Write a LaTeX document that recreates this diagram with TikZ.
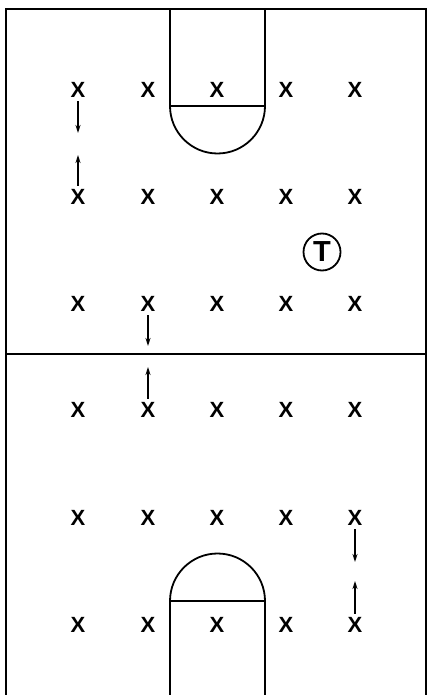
\documentclass[tikz,border=0pt]{standalone}
\usepackage{fontspec}
\setmainfont{Liberation Sans}
\usepackage{tikz}
\usetikzlibrary{arrows.meta}

\begin{document}
\begin{tikzpicture}[x=1pt, y=-1pt, >={Stealth[length=8pt, width=5pt]}]
        % Style definitions
        \tikzset{
            court/.style={line width=2.2pt},
            lane/.style={line width=1.8pt},
            player/.style={inner sep=0pt, outer sep=3.5pt, font=\fontsize{22}{22}\selectfont},
            coach/.style={draw, circle, line width=1.8pt, minimum size=37pt, inner sep=0pt, font=\bfseries\fontsize{29}{29}\selectfont},
            move/.style={->, line width=1.6pt}
        }
        \useasboundingbox (0,0) rectangle (428,695);

        % Court outline and half line
        \draw [court] (6,697) -- (6,9) -- (426,9) -- (426,697);
        \draw [court] (6,354) -- (426,354);

        % Top lane
        \draw [lane] (170,9) -- (170,106) -- (265,106) -- (265,9);
        \draw [lane] (170,106) arc [start angle=180, end angle=0, radius=47.5];

        % Bottom lane
        \draw [lane] (170,697) -- (170,601) -- (265,601) -- (265,697);
        \draw [lane] (170,601) arc [start angle=180, end angle=360, radius=47.5];

        % Players, row 1
        \node [player] (x11) at (78,90) {\bfseries X};
        \node [player] (x12) at (148,90) {\bfseries X};
        \node [player] (x13) at (217,90) {\bfseries X};
        \node [player] (x14) at (286,90) {\bfseries X};
        \node [player] (x15) at (355,90) {\bfseries X};

        % Players, row 2
        \node [player] (x21) at (78,197) {\bfseries X};
        \node [player] (x22) at (148,197) {\bfseries X};
        \node [player] (x23) at (217,197) {\bfseries X};
        \node [player] (x24) at (286,197) {\bfseries X};
        \node [player] (x25) at (355,197) {\bfseries X};

        % Players, row 3
        \node [player] (x31) at (78,304) {\bfseries X};
        \node [player] (x32) at (148,304) {\bfseries X};
        \node [player] (x33) at (217,304) {\bfseries X};
        \node [player] (x34) at (286,304) {\bfseries X};
        \node [player] (x35) at (355,304) {\bfseries X};

        % Players, row 4
        \node [player] (x41) at (78,410) {\bfseries X};
        \node [player] (x42) at (148,410) {\bfseries X};
        \node [player] (x43) at (217,410) {\bfseries X};
        \node [player] (x44) at (286,410) {\bfseries X};
        \node [player] (x45) at (355,410) {\bfseries X};

        % Players, row 5
        \node [player] (x51) at (78,518) {\bfseries X};
        \node [player] (x52) at (148,518) {\bfseries X};
        \node [player] (x53) at (217,518) {\bfseries X};
        \node [player] (x54) at (286,518) {\bfseries X};
        \node [player] (x55) at (355,518) {\bfseries X};

        % Players, row 6
        \node [player] (x61) at (78,625) {\bfseries X};
        \node [player] (x62) at (148,625) {\bfseries X};
        \node [player] (x63) at (217,625) {\bfseries X};
        \node [player] (x64) at (286,625) {\bfseries X};
        \node [player] (x65) at (355,625) {\bfseries X};

        % Coach
        \node [coach] (coach) at (322,252) {T};

        % Arrow tips
        \coordinate (tip1) at (78,133);
        \coordinate (tip2) at (78,155);
        \coordinate (tip3) at (148,346);
        \coordinate (tip4) at (148,367);
        \coordinate (tip5) at (355,562);
        \coordinate (tip6) at (355,581);

        % Moves
        \draw [move] (x11) -- (tip1);
        \draw [move] (x21) -- (tip2);
        \draw [move] (x32) -- (tip3);
        \draw [move] (x42) -- (tip4);
        \draw [move] (x55) -- (tip5);
        \draw [move] (x65) -- (tip6);
    \end{tikzpicture}
\end{document}
